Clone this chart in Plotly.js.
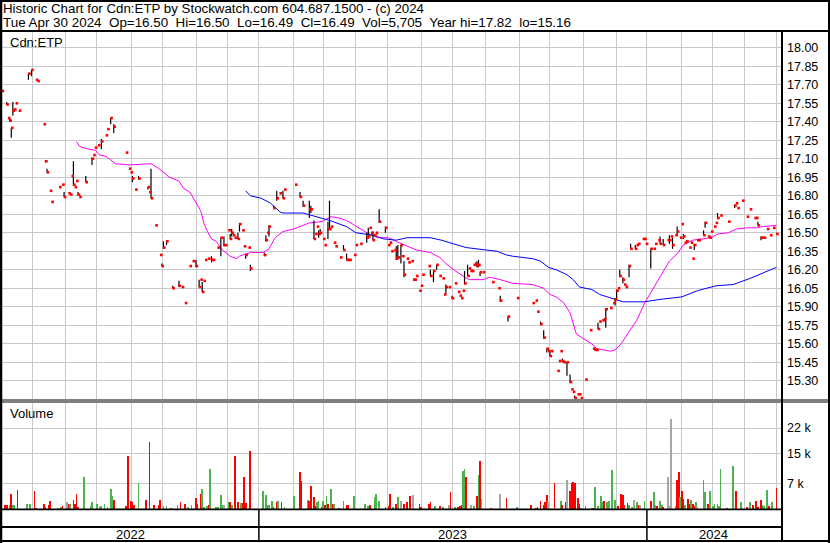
<!DOCTYPE html>
<html><head><meta charset="utf-8">
<script src="https://cdn.plot.ly/plotly-3.0.1.min.js"></script>
<style>html,body{margin:0;padding:0;background:#fff;}#chart{width:830px;height:543px;}</style>
</head><body><div id="chart"></div>
<script>
// ---------- DATA (x = trading-day index from start of chart) ----------
// daily close
const closeIdx = [
0,3,4,5,6,7,8,9,11,17,
19,22,23,27,28,29,31,32,37,39,
40,43,44,45,46,47,48,49,50,54,
58,59,60,62,64,67,68,70,72,80,
82,83,84,86,88,94,95,96,99,102,
103,104,106,110,114,116,118,121,123,125,
127,128,129,130,131,133,135,136,139,141,
143,144,146,147,148,149,150,152,153,155,
156,157,159,160,169,170,171,172,175,177,
179,181,182,189,192,194,198,199,201,202,
203,204,205,207,208,210,211,212,214,215,
218,220,222,223,224,227,228,231,235,236,
237,238,239,240,241,243,247,249,250,251,
253,254,255,257,258,259,261,262,264,265,
266,267,269,270,271,275,276,278,280,282,
284,285,286,288,290,292,294,295,296,297,
298,300,301,302,303,304,305,306,307,308,
310,316,320,321,326,332,342,344,345,347,
349,351,352,353,354,358,359,360,361,362,
364,366,367,368,369,371,372,373,376,379,
381,382,383,384,385,387,388,389,392,394,
395,396,397,398,400,401,402,404,405,408,
409,410,413,414,415,418,420,421,423,424,
426,429,430,431,432,434,435,437,438,439,
440,441,443,444,445,446,448,449,452,453,
455,456,457,459,460,461,463,468,472,473,
474,477,480,482,485,486,487,489,490,491,
493,495,497,499];
const closeVal = [
17.65,17.54,17.43,17.41,17.35,17.49,17.50,17.55,17.49,17.79,
17.82,17.74,17.73,17.38,17.08,16.99,16.84,16.75,16.87,16.89,
16.79,16.82,16.81,16.96,16.89,16.87,16.92,16.81,16.79,16.91,
17.10,17.13,17.19,17.21,17.24,17.29,17.34,17.43,17.36,17.15,
17.02,16.99,16.94,16.85,16.94,16.87,16.83,16.78,16.56,16.32,
16.23,16.38,16.43,16.05,16.07,16.06,15.93,16.23,16.27,16.23,
16.06,16.12,16.02,16.11,16.28,16.29,16.28,16.28,16.38,16.46,
16.40,16.40,16.52,16.45,16.50,16.48,16.46,16.45,16.57,16.52,
16.39,16.32,16.38,16.21,16.32,16.44,16.50,16.55,16.70,16.78,
16.82,16.78,16.85,16.89,16.79,16.72,16.69,16.69,16.45,16.49,
16.55,16.49,16.50,16.45,16.40,16.53,16.53,16.55,16.42,16.39,
16.30,16.36,16.28,16.28,16.28,16.32,16.40,16.41,16.46,16.47,
16.54,16.50,16.44,16.48,16.50,16.59,16.54,16.40,16.42,16.35,
16.36,16.29,16.30,16.40,16.31,16.16,16.29,16.26,16.27,16.12,
16.12,16.15,16.03,16.07,16.16,16.23,16.15,16.19,16.24,16.15,
16.13,16.00,16.06,16.06,15.97,16.09,16.02,15.99,15.97,16.03,
16.09,16.15,16.21,16.19,16.19,16.24,16.25,16.23,16.24,16.18,
16.18,16.10,16.05,15.95,15.82,15.97,15.93,15.95,15.86,15.76,
15.65,15.56,15.54,15.50,15.54,15.38,15.46,15.54,15.46,15.45,
15.45,15.29,15.23,15.21,15.16,15.19,15.19,15.16,15.31,15.71,
15.56,15.55,15.55,15.72,15.78,15.79,15.80,15.88,15.89,15.93,
15.96,16.03,16.05,16.15,16.12,16.08,16.06,16.23,16.37,16.37,
16.40,16.41,16.45,16.45,16.41,16.37,16.37,16.41,16.44,16.41,
16.40,16.44,16.44,16.47,16.40,16.48,16.51,16.46,16.57,16.47,
16.42,16.43,16.38,16.42,16.29,16.40,16.44,16.44,16.48,16.58,
16.47,16.46,16.51,16.55,16.58,16.62,16.64,16.59,16.72,16.74,
16.70,16.76,16.63,16.69,16.62,16.62,16.56,16.46,16.46,16.46,
16.53,16.48,16.54,16.49];

// daily high-low range (days that traded through a range)
const rangeIdx = [
3,5,6,7,17,19,28,29,40,46,
49,54,58,64,70,72,84,88,94,96,
103,104,106,110,114,125,127,129,135,141,
143,147,148,152,153,157,160,169,170,172,
175,177,181,192,194,198,199,201,204,205,
210,211,220,222,235,236,239,243,247,254,
255,257,259,276,278,280,286,290,298,300,
306,307,308,321,326,347,349,351,353,361,
364,366,369,384,389,395,396,398,400,404,
405,408,418,424,426,430,432,435,439,441,
446,452,453,461,472,487,489,499];
const rangeHigh = [
17.56,17.43,17.35,17.56,17.79,17.82,17.09,17.02,16.83,17.08,
16.83,16.96,17.11,17.26,17.43,17.38,16.96,16.96,16.87,17.02,
16.25,16.43,16.44,16.07,16.11,16.28,16.12,16.10,16.31,16.46,
16.47,16.49,16.53,16.50,16.58,16.33,16.24,16.34,16.48,16.56,
16.72,16.84,16.84,16.83,16.76,16.76,16.72,16.60,16.52,16.53,
16.59,16.76,16.40,16.33,16.50,16.54,16.51,16.69,16.55,16.39,
16.40,16.40,16.27,16.20,16.20,16.24,16.08,15.99,16.19,16.24,
16.27,16.28,16.18,15.99,15.82,15.78,15.71,15.56,15.55,15.48,
15.45,15.35,15.18,15.77,15.89,15.97,16.04,16.20,16.14,16.24,
16.41,16.40,16.37,16.47,16.45,16.48,16.46,16.55,16.49,16.44,
16.41,16.52,16.59,16.66,16.73,16.59,16.47,16.50];
const rangeLow = [
17.54,17.40,17.27,17.45,17.74,17.77,17.07,16.99,16.79,16.88,
16.80,16.91,17.05,17.18,17.38,17.31,16.91,16.93,16.85,16.78,
16.23,16.37,16.40,16.05,16.06,16.22,16.06,16.02,16.26,16.31,
16.39,16.45,16.47,16.45,16.51,16.29,16.19,16.31,16.43,16.47,
16.70,16.76,16.78,16.79,16.71,16.62,16.66,16.45,16.46,16.49,
16.45,16.53,16.36,16.28,16.42,16.47,16.44,16.58,16.50,16.28,
16.30,16.25,16.14,16.15,16.10,16.20,16.01,15.96,16.08,16.15,
16.22,16.22,16.15,15.94,15.78,15.75,15.64,15.53,15.50,15.45,
15.34,15.28,15.16,15.72,15.73,15.91,15.96,16.14,16.09,16.14,
16.37,16.37,16.21,16.41,16.40,16.41,16.37,16.48,16.45,16.42,
16.36,16.48,16.54,16.61,16.70,16.56,16.44,16.49];

// moving averages
const maShortIdx = [48,50,55,60,63,67,70,73,82,96,101,104,108,114,117,121,125,128,130,132,
135,138,142,147,151,153,160,168,172,176,181,188,192,198,206,212,217,222,226,231,
235,242,249,254,261,267,276,282,286,291,297,301,310,314,321,329,342,349,353,357,
362,366,370,375,381,383,392,395,399,403,409,414,420,425,430,435,439,445,452,457,
461,468,473,480,486,490,499];
const maShortVal = [17.24,17.20,17.18,17.17,17.13,17.12,17.09,17.06,17.05,17.06,17.02,16.99,16.95,16.92,16.86,16.83,16.75,16.68,16.58,16.52,
16.45,16.43,16.36,16.31,16.29,16.31,16.34,16.34,16.37,16.46,16.51,16.53,16.55,16.58,16.59,16.63,16.62,16.60,16.57,16.53,
16.50,16.46,16.46,16.43,16.39,16.36,16.34,16.30,16.25,16.20,16.15,16.12,16.12,16.14,16.12,16.09,16.08,16.05,16.00,15.98,
15.93,15.85,15.68,15.64,15.59,15.56,15.54,15.55,15.60,15.68,15.79,15.93,16.06,16.17,16.27,16.33,16.40,16.44,16.45,16.46,
16.49,16.50,16.53,16.54,16.54,16.55,16.56];
const maLongIdx = [157,160,167,173,179,181,194,203,211,222,228,239,246,254,261,276,283,291,299,312,
319,325,329,342,347,352,357,364,368,372,380,385,390,400,414,424,438,448,460,471,
482,490,499];
const maLongVal = [16.84,16.80,16.78,16.74,16.67,16.66,16.66,16.63,16.60,16.55,16.50,16.48,16.45,16.44,16.46,16.46,16.44,16.41,16.38,16.36,
16.35,16.32,16.31,16.29,16.27,16.22,16.20,16.16,16.12,16.06,16.04,16.00,15.98,15.94,15.94,15.96,15.98,16.03,16.07,16.08,
16.13,16.17,16.22];

// volume: u = close up, d = close down, n = unchanged
const volIdx = [
2,3,5,6,7,8,10,16,18,21,
22,27,28,30,31,36,38,39,42,43,
44,46,47,48,49,53,57,58,61,63,
64,66,68,70,71,72,80,81,83,84,
85,88,93,95,98,101,102,104,106,109,
113,115,118,120,122,125,126,128,129,130,
132,133,134,138,139,141,142,143,146,147,
148,150,152,154,155,156,157,159,160,168,
170,171,172,174,175,177,178,180,182,188,
192,193,197,198,199,201,202,203,204,206,
207,208,209,210,212,213,214,217,220,222,
223,227,231,234,236,237,240,241,243,247,
249,250,252,254,255,257,259,261,263,265,
269,270,275,276,279,282,284,288,289,292,
294,295,296,297,298,299,302,304,306,307,
308,309,315,321,325,332,341,344,345,347,
349,350,351,352,356,360,361,363,364,366,
367,368,369,371,372,373,376,380,381,382,
384,386,387,388,390,391,393,395,397,399,
400,401,403,404,406,407,409,410,411,414,
418,420,421,422,424,425,426,429,430,431,
434,435,436,437,438,439,440,442,443,444,
445,446,447,448,452,453,455,456,458,459,
461,462,463,467,471,473,476,480,482,484,
486,487,489,490,491,493,494,496,499];
const volume = [
1200,1200,1200,4200,1200,1200,5200,1400,1400,5000,
300,1400,500,1200,2300,300,500,900,1900,1400,
1400,2500,1400,4200,500,8600,900,1900,1400,500,
900,1400,500,5500,3400,2500,900,14500,2300,1900,
1200,7100,2500,18300,1200,1200,2500,700,900,300,
1200,2000,1400,500,1200,3000,1400,4200,5500,500,
900,1200,11000,500,500,3900,1200,1200,1800,1900,
1200,14500,1900,1600,1600,8800,1600,300,15800,5000,
3700,1200,1200,2100,500,1800,2100,1800,500,3400,
10100,7700,2400,2300,6200,3300,700,1900,2100,500,
2100,1200,3400,1400,5500,1400,1400,300,2100,1200,
1200,3400,300,1400,900,1200,3200,4200,2100,500,
900,4200,500,1400,3200,2100,1400,1900,3400,3900,
1400,500,1400,1900,900,900,500,1200,4600,500,
500,900,1200,10400,11000,8600,1200,900,3600,9300,
13100,2800,300,4200,3000,500,1200,300,500,2300,
1200,1900,3900,2100,7100,2100,1200,1800,7900,5000,
7100,7200,7100,3000,1400,300,900,300,300,6000,
900,3600,1900,2100,1900,2100,10700,2500,900,4200,
3900,1200,1600,1200,500,2500,1900,1200,1200,2100,
2100,4500,1200,900,2100,1200,500,8800,900,24500,
900,7800,10100,3200,4800,2800,1200,2800,1400,2500,
1400,900,1900,500,7900,4500,1400,5000,900,1400,
1400,900,11000,300,11800,5000,1800,500,1800,1200,
2100,500,2500,1200,900,5200,700,1800,5705];
const volDir = [
'd','d','u','d','u','u','d','u','u','d',
'd','d','d','d','d','u','u','d','n','d',
'u','d','d','d','d','u','u','u','u','u',
'u','u','u','u','u','d','d','d','d','d',
'd','u','d','d','d','d','d','u','u','d',
'u','d','d','u','u','d','d','d','u','u',
'u','d','u','u','u','u','u','n','u','d',
'u','d','d','u','d','d','d','n','d','u',
'u','u','u','u','d','d','u','d','u','u',
'd','d','u','d','d','d','d','u','u','d',
'u','d','u','d','u','d','u','d','u','d',
'd','u','u','u','u','d','u','u','u','d',
'd','d','u','d','u','n','d','d','d','n',
'd','d','d','d','u','d','u','n','d','u',
'd','d','d','u','u','d','n','u','d','u',
'd','n','d','n','d','u','d','d','d','d',
'd','d','d','n','d','u','d','d','n','d',
'd','d','d','d','d','n','u','d','d','u',
'u','u','u','d','u','u','u','u','d','d',
'd','d','d','u','u','n','u','d','n','u',
'd','u','u','d','u','u','d','n','n','n',
'u','d','d','u','d','d','u','d','d','u',
'd','d','u','n','u','u','d','u','u','u',
'u','u','u','d','u','d','u','d','u','d',
'd','d','d','u','u','u','d','u','d'];

// axis ticks / calendar
const priceTick0 = 15.30, priceStep = 0.15;
const volTicks = [7000, 15000, 22000];
const volTickText = ['7 k', '15 k', '22 k'];
const monthIdx = [19.5,41,61,83.5,103.5,125,145.5,165.5,187.5,207,228,248.5,270.5,290.5,311.5,333.5,352.5,374.5,396,415.5,438,458,478.5,499];
const yearBreakIdx = [165.5, 415.5];
const yearLabels = ['2022', '2023', '2024'];

const headerLine1 = 'Historic Chart for Cdn:ETP by Stockwatch.com 604.687.1500 - (c) 2024';
const headerLine2 = 'Tue Apr 30 2024  Op=16.50  Hi=16.50  Lo=16.49  Cl=16.49  Vol=5,705  Year hi=17.82  lo=15.16';

// ---------- LAYOUT / STYLE ----------
const W = 830, H = 543;
const PX = v => v / W, PY = v => 1 - v / H;
const xMax = 501.9;
const closeOffset = 0.6;
const FONT = 'Liberation Sans, Arial, sans-serif';
const GRID = '#c8c8c8';
const dirColor = {u: '#4cb34c', d: '#ff0000', n: '#a6a6a6'};

const hlX = [], hlY = [];
rangeIdx.forEach((d, i) => { hlX.push(d, d, null); hlY.push(rangeLow[i], rangeHigh[i], null); });

const traces = [
  {type:'scatter', mode:'lines', x: maShortIdx, y: maShortVal, xaxis:'x', yaxis:'y',
   line:{color:'#ff00ff', width:1}, hoverinfo:'skip'},
  {type:'scatter', mode:'lines', x: maLongIdx, y: maLongVal, xaxis:'x', yaxis:'y',
   line:{color:'#0000ff', width:1}, hoverinfo:'skip'},
  {type:'scatter', mode:'lines', x: hlX, y: hlY, xaxis:'x', yaxis:'y',
   line:{color:'#000000', width:1.2}, connectgaps:false, hoverinfo:'skip'},
  {type:'scatter', mode:'markers', x: closeIdx.map(v => v + closeOffset), y: closeVal, xaxis:'x', yaxis:'y',
   marker:{symbol:'square', size:2.6, color:'#ff0000', line:{width:0}}, hoverinfo:'skip'},
  {type:'bar', x: volIdx, y: volume, xaxis:'x2', yaxis:'y2', width:1.1,
   marker:{color: volDir.map(d => dirColor[d]), line:{width:0}}, hoverinfo:'skip'}
];

const xCommon = {range:[0, xMax], domain:[PX(2), PX(781)], tickmode:'array', tickvals: monthIdx,
  showticklabels:false, ticks:'', showgrid:true, gridcolor:GRID, gridwidth:1, zeroline:false, showline:false, fixedrange:true};

const black = (x0,y0,x1,y1,w) => ({type:'line', xref:'paper', yref:'paper', x0:PX(x0), y0:PY(y0), x1:PX(x1), y1:PY(y1), line:{color:'#000', width:w}});

const shapes = [
  black(0,1,830,1,2), black(1,0,1,543,2.5), black(829,0,829,543,2), black(0,541,830,541,2),
  black(0,31,830,31,2),
  black(782,31,782,541,2),
  black(0,400,830,400,1), black(0,402,830,402,1),
  black(0,509.4,782,509.4,1.6),
  black(0,527,782,527,2)
];
yearBreakIdx.forEach(b => shapes.push({type:'line', xref:'x', yref:'paper', x0:b, x1:b, y0:PY(541), y1:PY(510), line:{color:'#000', width:1.5}}));

const annotations = [
  {text: headerLine1, xref:'paper', yref:'paper', x:PX(0.5), y:PY(8.7), xanchor:'left', yanchor:'middle', showarrow:false, font:{family:FONT, size:13.3, color:'#000'}},
  {text: headerLine2.replace(/  /g, '\u00a0 '), xref:'paper', yref:'paper', x:PX(0.5), y:PY(22.4), xanchor:'left', yanchor:'middle', showarrow:false, font:{family:FONT, size:13.4, color:'#000'}},
  {text:'Cdn:ETP', xref:'paper', yref:'paper', x:PX(8), y:PY(42.2), xanchor:'left', yanchor:'middle', showarrow:false, font:{family:FONT, size:13, color:'#000'}},
  {text:'Volume', xref:'paper', yref:'paper', x:PX(8), y:PY(413.8), xanchor:'left', yanchor:'middle', showarrow:false, font:{family:FONT, size:13, color:'#000'}}
];
const bounds = [0, ...yearBreakIdx, xMax];
yearLabels.forEach((t, i) => annotations.push({text:t, xref:'x', yref:'paper', x:(bounds[i] + bounds[i+1]) / 2, y:PY(534.6),
  xanchor:'center', yanchor:'middle', showarrow:false, font:{family:FONT, size:13, color:'#000'}}));

const layout = {
  width: W, height: H, margin:{l:0, r:0, t:0, b:0, pad:0},
  paper_bgcolor:'#ffffff', plot_bgcolor:'#ffffff', showlegend:false, bargap:0,
  font:{family:FONT, size:13, color:'#000'},
  xaxis: Object.assign({anchor:'y'}, xCommon),
  xaxis2: Object.assign({anchor:'y2', matches:'x'}, xCommon),
  yaxis: {anchor:'x', domain:[PY(399), PY(32)], range:[15.152, 18.128], side:'right',
    tickmode:'linear', tick0:priceTick0, dtick:priceStep, tickformat:'.2f', ticks:'', ticklabelstandoff:5,
    showgrid:true, gridcolor:GRID, gridwidth:1, zeroline:false, showline:false, fixedrange:true,
    tickfont:{family:FONT, size:12.5, color:'#000'}},
  yaxis2: {anchor:'x2', domain:[PY(509), PY(403)], range:[0, 28790], side:'right',
    tickmode:'array', tickvals:volTicks, ticktext:volTickText, ticks:'', ticklabelstandoff:5,
    showgrid:true, gridcolor:GRID, gridwidth:1, zeroline:false, showline:false, fixedrange:true,
    tickfont:{family:FONT, size:12.5, color:'#000'}},
  shapes, annotations
};

Plotly.newPlot('chart', traces, layout, {staticPlot:true, displayModeBar:false});
</script></body></html>
